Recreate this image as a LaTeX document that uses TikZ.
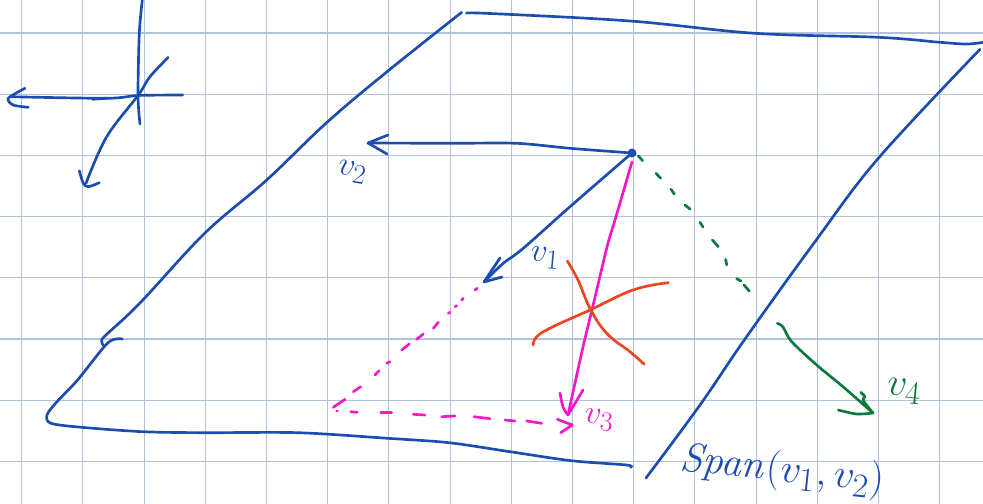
\documentclass[tikz,border=0pt]{standalone}
\tikzset{
  gridline/.style={draw=gridblue, line width=0.8pt},
  bluepen/.style={draw=penblue, line width=2pt, line cap=round, line join=round},
  pinkpen/.style={draw=penpink, line width=2pt, line cap=round, line join=round},
  greenpen/.style={draw=pengreen, line width=2pt, line cap=round, line join=round},
  redpen/.style={draw=penred, line width=2pt, line cap=round, line join=round},
  vlabel/.style={inner sep=0pt, font=\Huge},
  biglabel/.style={inner sep=0pt, font=\Huge, scale=1.18},
  spanlabel/.style={inner sep=0pt, font=\Huge, scale=1.23}
}
\definecolor{gridblue}{HTML}{B2C2DE}
\definecolor{penblue}{HTML}{1B4DB1}
\definecolor{penpink}{HTML}{F218C9}
\definecolor{pengreen}{HTML}{0B7A3E}
\definecolor{penred}{HTML}{EE4422}
\begin{document}
\begin{tikzpicture}[x=0.75pt, y=-0.75pt]
\useasboundingbox (0,0) rectangle (983,504);
\fill[white] (0,0) rectangle (983,504);
\foreach \i in {0,...,15} \draw[gridline] ({21.7+61.2*\i},0) -- ({21.7+61.2*\i},504);
\foreach \i in {0,...,7} \draw[gridline] (0,{33+61.2*\i}) -- (983,{33+61.2*\i});
\coordinate (axes) at (138,95.5);
\coordinate (origin) at (632,153);
\coordinate (tipone) at (484,282);
\coordinate (tiptwo) at (368,143);
\coordinate (tipthree) at (568,415);
\coordinate (tipfour) at (873,413);
\draw[bluepen] plot[smooth, tension=0.6] coordinates {(103,345) (101.7,341) (106,335) (140,303) (205,233) (266.7,180) (327.7,121.7) (388.3,70.7) (461.7,12.3)};
\draw[bluepen] plot[smooth, tension=0.6] coordinates {(466.7,13.3) (490,13.5) (630,21) (755,33.3) (878.3,37.3) (940,42.3) (966.7,44) (983,42.3)};
\draw[bluepen] plot[smooth, tension=0.6] coordinates {(980,49.3) (878.3,158.3) (815,241.7) (745,339) (700,405) (646,478)};
\draw[bluepen] plot[smooth, tension=0.5] coordinates {(122.4,339) (108,342.7) (77.6,380) (57,401.7) (47,415) (51,423.3) (81.6,427.3) (143,431.7) (204,432.7) (298,432.7) (387.8,438.3) (449,442.7) (510,451.7) (571.4,460.7) (626.5,465) (630.6,467.3)};
\draw[bluepen] plot[smooth, tension=0.5] coordinates {(142.3,0) (139.3,33.3) (axes) (140,124)};
\draw[bluepen] plot[smooth, tension=0.5] coordinates {(182.7,95) (axes) (106.7,98.3) (10,96.7)};
\draw[bluepen] plot[smooth, tension=0.5] coordinates {(25,88.3) (8.3,98.3) (13.3,105) (28.3,107.3)};
\draw[bluepen] (92.7,99.3) -- (106.7,98.3);
\draw[bluepen] plot[smooth, tension=0.6] coordinates {(168.3,57.3) (150,76.7) (axes) (106.7,136.7) (86,183.3)};
\draw[bluepen] plot[smooth, tension=0.5] coordinates {(79.3,170.7) (83.3,183.3) (88.3,186.7) (99.3,182.7)};
\draw[bluepen] plot[smooth, tension=0.5] coordinates {(origin) (570,148.3) (516.7,143.3) (453,143.3) (tiptwo)};
\draw[bluepen] (388,135) -- (tiptwo) -- (387,154);
\draw[bluepen] plot[smooth, tension=0.6] coordinates {(origin) (570,206.7) (523.3,248.3) (503.3,263.3) (tipone)};
\draw[bluepen] (500,258) -- (tipone) -- (502,277);
\fill[penblue] (origin) circle (4.5);
\draw[pinkpen] plot[smooth, tension=0.5] coordinates {(632,162) (615,220) (607,247) (592,310) (583,347) (tipthree)};
\draw[pinkpen] plot[smooth, tension=0.5] coordinates {(560,393) (563,407) (tipthree)};
\draw[pinkpen] (tipthree) -- (583,390);
\foreach \a/\b/\c/\d in {475/290/477.3/288.3, 461.7/300/463.3/298.3, 455/306.7/456.7/305.7, 448.3/313.3/450/312.3, 433.3/328.3/438.3/322.3, 416.7/339.3/423.3/334, 401.7/350/409.3/344, 386.7/363.3/390/361.7, 375/375/379.3/370.7, 353.3/391.7/360.7/386.7, 333.3/407.3/345/399.3, 336.7/411/337.5/411, 350.7/411.7/357.3/412.3, 380.7/412.3/391.7/412.3, 413.3/414.3/425/415, 441.7/416.7/455/416, 474/416.7/490/418.7, 505/420/515/421, 526.7/421/541.7/423.3}
  \draw[pinkpen] (\a,\b) -- (\c,\d);
\draw[pinkpen] (557.3,419.3) -- (572.3,425) -- (560.7,432.7);
\draw[redpen] plot[smooth, tension=0.7] coordinates {(567.3,261) (578,280) (590,308.3) (606.7,333.3) (630,351.7) (644.3,364.3)};
\draw[redpen] plot[smooth, tension=0.7] coordinates {(533.3,345) (536.7,336.7) (553,326.7) (590,310) (633,290) (668.3,282.7)};
\foreach \a/\b/\c/\d in {638.3/156/642.7/160.7, 656/173.3/660.7/178.3, 671/189.3/674.3/194, 685/205/690/209, 700/222.3/703/227, 712.3/240/718.3/246.7, 725.7/259.3/726.7/265, 736.7/278.7/741/281, 744/285/749.3/291}
  \draw[greenpen] (\a,\b) -- (\c,\d);
\draw[greenpen] plot[smooth, tension=0.5] coordinates {(777.3,323.3) (783,327) (791.7,341.7) (816.7,365) (843,386.7) (tipfour)};
\draw[greenpen] plot[smooth, tension=0.5] coordinates {(860.7,392.3) (865,396.7) (863,400) (tipfour)};
\draw[greenpen] plot[smooth, tension=0.5] coordinates {(838.3,410) (856.7,414) (tipfour)};
\node[vlabel, text=penblue, rotate=-5] (labelone) at (545,258) {$v_1$};
\node[vlabel, text=penblue, rotate=-10] (labeltwo) at (352,172) {$v_2$};
\node[vlabel, text=penpink, rotate=-5] (labelthree) at (599,420) {$v_3$};
\node[biglabel, text=pengreen, rotate=-5] (labelfour) at (904,391) {$v_4$};
\node[spanlabel, text=penblue, rotate=-6] (labelspan) at (782,471) {$\mathit{Span}(v_1,v_2)$};
\end{tikzpicture}
\end{document}
